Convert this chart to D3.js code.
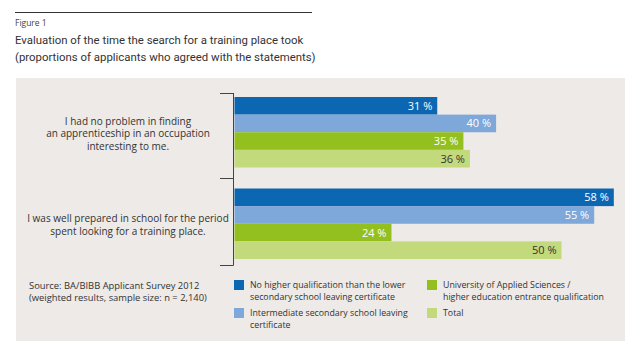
<!DOCTYPE html>
<html><head><meta charset="utf-8">
<script src="https://cdn.jsdelivr.net/npm/d3@7"></script>
<style>body{margin:0;background:#fff;} svg{display:block;font-family:"Open Sans","Noto Sans",sans-serif;}</style>
</head><body>
<script>
const statements = [
  ["I had no problem in finding", "an apprenticeship in an occupation", "interesting to me."],
  ["I was well prepared in school for the period", "spent looking for a training place."]
];
const seriesNames = [
  ["No higher qualification than the lower", "secondary school leaving certificate"],
  ["Intermediate secondary school leaving", "certificate"],
  ["University of Applied Sciences /", "higher education entrance qualification"],
  ["Total"]
];
const lowerSecondary = [31, 58];
const intermediate = [40, 55];
const university = [35, 24];
const total = [36, 50];
const series = [lowerSecondary, intermediate, university, total];
const colors = ["#0b67b2", "#7ea7da", "#93c01f", "#c3da7c"];
const labelColors = ["#fff", "#fff", "#fff", "#333"];

const W = 643, H = 358;
const svg = d3.select("body").append("svg").attr("width", W).attr("height", H);

// top rule and title
svg.append("line").attr("x1", 15).attr("x2", 312).attr("y1", 12.5).attr("y2", 12.5).attr("stroke", "#333").attr("stroke-width", 1.2);
svg.append("text").attr("x", 15).attr("y", 26).attr("font-size", 8.5).attr("fill", "#444").text("Figure 1");
svg.append("text").attr("x", 15).attr("y", 44).attr("font-size", 11.4).attr("font-family", "Roboto, sans-serif").attr("fill", "#333").text("Evaluation of the time the search for a training place took");
svg.append("text").attr("x", 15).attr("y", 61).attr("font-size", 11.4).attr("font-family", "Roboto, sans-serif").attr("fill", "#333").text("(proportions of applicants who agreed with the statements)");

// panel
svg.append("rect").attr("x", 16).attr("y", 78).attr("width", 609).attr("height", 263).attr("fill", "#edeae7");

const x = d3.scaleLinear().domain([0, 100]).range([234.5, 888.5]);
const barY = d3.scaleBand().domain([0, 1, 2, 3]).range([0, 70.5]);
const groupTop = [97, 188.5];

// bracket axis
const ax = 233.5;
svg.append("line").attr("x1", ax).attr("x2", ax).attr("y1", 93).attr("y2", 265.5).attr("stroke", "#444").attr("stroke-width", 1);
[93, 178, 265].forEach(t => {
  svg.append("line").attr("x1", 220).attr("x2", ax).attr("y1", t + 0.5).attr("y2", t + 0.5).attr("stroke", "#444").attr("stroke-width", 1);
});

// bars
statements.forEach((st, g) => {
  series.forEach((s, i) => {
    const y0 = groupTop[g] + barY(i);
    svg.append("rect").attr("x", x(0)).attr("y", y0).attr("width", x(s[g]) - x(0)).attr("height", barY.bandwidth())
      .attr("fill", colors[i]);
    svg.append("text").attr("x", x(s[g]) - 5).attr("y", y0 + barY.bandwidth() / 2 + 4).attr("text-anchor", "end")
      .attr("font-size", 11).attr("fill", labelColors[i]).text(s[g] + " %");
  });
  const cy = groupTop[g] + 36;
  const lh = 12.5;
  st.forEach((line, k) => {
    svg.append("text").attr("x", 128).attr("y", cy + (k - (st.length - 1) / 2) * lh + 4).attr("text-anchor", "middle")
      .attr("font-size", 10).attr("fill", "#333").text(line);
  });
});

// source
svg.append("text").attr("x", 29).attr("y", 289).attr("font-size", 9.4).attr("fill", "#333").text("Source: BA/BIBB Applicant Survey 2012");
svg.append("text").attr("x", 29).attr("y", 301).attr("font-size", 9.4).attr("fill", "#333").text("(weighted results, sample size: n = 2,140)");

// legend
const legPos = [[234, 280], [234, 308], [427, 280], [427, 308]];
seriesNames.forEach((nm, i) => {
  const [lx, ly] = legPos[i];
  svg.append("rect").attr("x", lx).attr("y", ly).attr("width", 10).attr("height", 10).attr("fill", colors[i]);
  nm.forEach((line, k) => {
    svg.append("text").attr("x", lx + 16).attr("y", ly + 8 + k * 11.5).attr("font-size", 8.8).attr("fill", "#333").text(line);
  });
});
</script>
</body></html>
